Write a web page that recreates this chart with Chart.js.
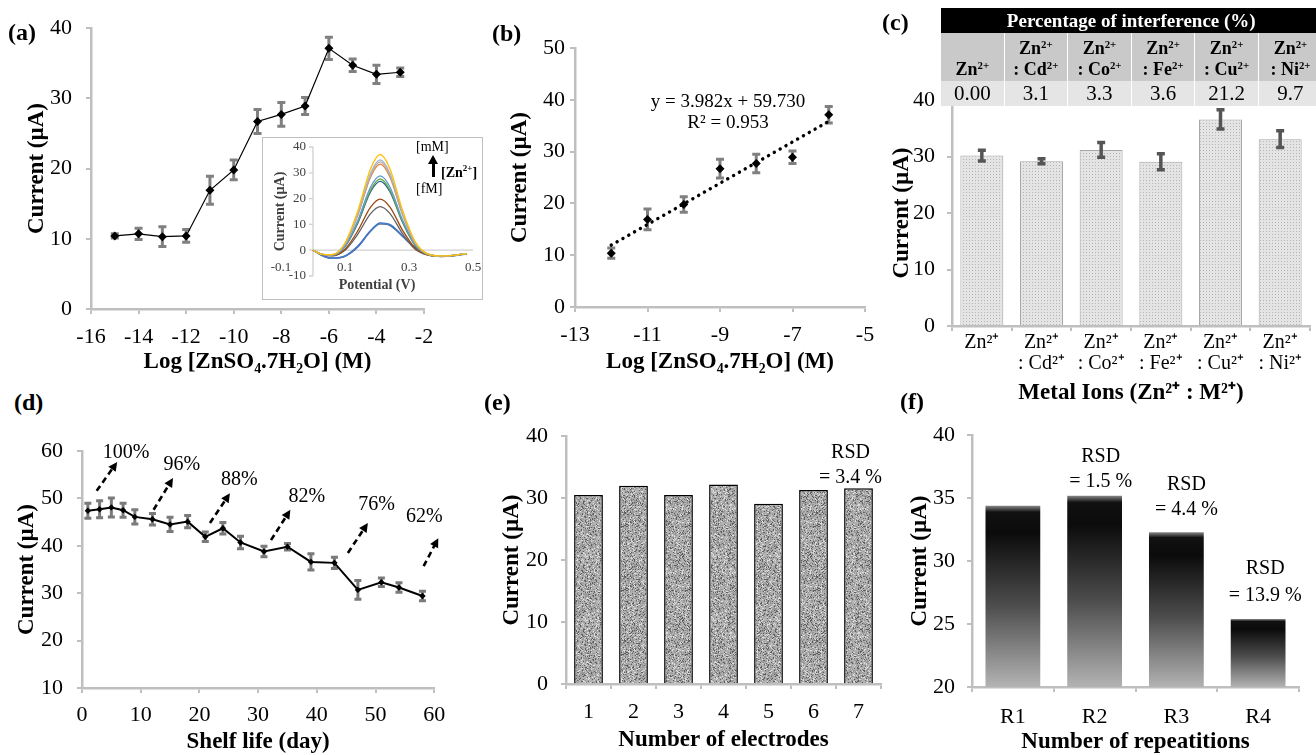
<!DOCTYPE html>
<html lang="en">
<head>
<meta charset="UTF-8">
<title>Zn2+ electrode figure</title>
<style>
    body {
        margin: 0;
        width: 1316px;
        height: 755px;
        overflow: hidden;
        position: relative;
        background: #fff;
        font-family: 'Liberation Serif', 'Times New Roman', serif;
        color: #000;
    }
    .panel { position: absolute; }
    .tag {
        position: absolute;
        font-weight: bold;
        font-size: 24px;
        line-height: 24px;
    }
    #insetBox {
        position: absolute;
        left: 262px; top: 137px; width: 219px; height: 161px;
        border: 1px solid #bfbfbf;
        background: #fff;
    }
    .small { position: absolute; font-size: 14px; line-height: 14px; }
    #arrowUp {
        position: absolute; left: 432px; top: 163px;
        width: 3px; height: 14px; background: #000;
    }
    #arrowUp:before {
        content: ''; position: absolute; left: -4px; top: -8px;
        border-left: 5.5px solid transparent; border-right: 5.5px solid transparent;
        border-bottom: 9px solid #000;
    }
    #interf {
        position: absolute; left: 940px; top: 8px;
        width: 382px; border-collapse: collapse; table-layout: fixed;
        font-family: 'Liberation Serif', 'Times New Roman', serif;
    }
    #interf th, #interf td { padding: 0; text-align: center; }
    #interf .head th {
        background: #000; color: #fff; font-size: 19px; height: 25px; line-height: 25px;
    }
    #interf .ions td {
        background: #c9c9c9; font-weight: bold; font-size: 18px; line-height: 21px;
        height: 47px; vertical-align: bottom; padding-bottom: 1px; border-left: 1px solid #fff;
    }
    #interf .vals td {
        background: #e5e5e5; font-size: 21px; height: 25px; line-height: 25px; border-left: 1px solid #fff;
    }
    #interf sup { font-size: 0.6em; line-height: 0; vertical-align: 0.6em; }
</style>
</head>
<body>
    <div class="panel" style="left:0px; top:0px; width:443px; height:376px;"><canvas id="chartA"></canvas></div>
    <div id="insetBox"></div>
    <div class="panel" style="left:262px; top:137px; width:221px; height:163px;"><canvas id="chartInset"></canvas></div>
    <div class="small" style="left:416px; top:140px;">[mM]</div>
    <div id="arrowUp"></div>
    <div class="small" style="left:441px; top:161px; font-weight:bold;">[Zn<sup style="font-size:9px">2+</sup>]</div>
    <div class="small" style="left:416px; top:182px;">[fM]</div>
    <div class="panel" style="left:490px; top:20px; width:395px; height:358px;"><canvas id="chartB"></canvas></div>
    <div class="panel" style="left:870px; top:75px; width:446px; height:338px;"><canvas id="chartC"></canvas></div>
    <table id="interf"></table>
    <div class="panel" style="left:0px; top:420px; width:454px; height:335px;"><canvas id="chartD"></canvas></div>
    <div class="panel" style="left:480px; top:410px; width:411px; height:345px;"><canvas id="chartE"></canvas></div>
    <div class="panel" style="left:880px; top:410px; width:436px; height:345px;"><canvas id="chartF"></canvas></div>

    <div class="tag" style="left:8px; top:20px;">(a)</div>
    <div class="tag" style="left:492px; top:21px;">(b)</div>
    <div class="tag" style="left:882px; top:10px;">(c)</div>
    <div class="tag" style="left:14px; top:390px;">(d)</div>
    <div class="tag" style="left:484px; top:390px;">(e)</div>
    <div class="tag" style="left:900px; top:389px;">(f)</div>

    <script src="https://cdn.jsdelivr.net/npm/chart.js@4"></script>
    <script>
        // ---- data ----
        const aLogConc = [-15, -14, -13, -12, -11, -10, -9, -8, -7, -6, -5, -4, -3];
        const aCurrent = [10.4, 10.7, 10.3, 10.4, 16.9, 19.8, 26.7, 27.7, 28.9, 37.1, 34.7, 33.4, 33.7];
        const aError = [0.3, 0.8, 1.4, 0.9, 2.0, 1.4, 1.7, 1.7, 1.2, 1.6, 0.9, 1.3, 0.6];

        const insetPotential = [0, 0.03, 0.06, 0.1, 0.14, 0.18, 0.21, 0.24, 0.28, 0.32, 0.36, 0.4, 0.44, 0.48];
        const insetCurves = [
            [0, -1.6, -1.7, 2.8, 15.2, 31.6, 37.1, 31.7, 15.4, 3.1, -1.5, -2.2, -2.0, -1.3],
            [0, -1.6, -1.7, 2.5, 14.2, 29.8, 35.0, 29.9, 14.4, 2.8, -1.5, -2.2, -2.0, -1.3],
            [0, -1.6, -1.7, 2.4, 13.9, 29.1, 34.2, 29.2, 14.1, 2.7, -1.5, -2.2, -2.0, -1.3],
            [0, -1.6, -1.8, 2.3, 13.5, 28.4, 33.4, 28.5, 13.7, 2.6, -1.6, -2.2, -2.0, -1.3],
            [0, -1.7, -1.9, 1.6, 11.5, 24.5, 28.8, 24.6, 11.7, 2.0, -1.7, -2.3, -2.0, -1.3],
            [0, -1.7, -1.9, 1.5, 10.9, 23.4, 27.6, 23.5, 11.1, 1.8, -1.7, -2.3, -2.0, -1.3],
            [0, -1.7, -1.9, 1.4, 10.5, 22.7, 26.7, 22.8, 10.7, 1.7, -1.7, -2.3, -2.0, -1.3],
            [0, -1.8, -2.1, 0.4, 7.5, 16.7, 19.8, 16.8, 7.7, 0.7, -1.9, -2.4, -2.0, -1.3],
            [0, -1.8, -2.2, 0.0, 6.2, 14.2, 16.9, 14.3, 6.4, 0.3, -1.9, -2.4, -2.0, -1.3],
            [0, -2.0, -3.0, -2.2, 1.6, 7.7, 10.6, 10.0, 5.6, 1.0, -1.5, -2.3, -2.0, -1.3],
            [0, -2.1, -3.1, -2.3, 1.4, 7.5, 10.4, 9.8, 5.5, 0.9, -1.6, -2.4, -2.1, -1.4],
            [0, -2.2, -3.2, -2.4, 1.2, 7.3, 10.2, 9.6, 5.3, 0.8, -1.7, -2.5, -2.2, -1.5]
        ];

        const bLogConc = [-12, -11, -10, -9, -8, -7, -6];
        const bCurrent = [10.4, 16.9, 19.8, 26.7, 27.7, 28.9, 37.1];
        const bError = [1.0, 2.0, 1.5, 1.8, 1.8, 1.2, 1.6];
        const bTrendX = [-12, -6];
        const bTrendY = [11.95, 35.84];
        const bEquation = ['y = 3.982x + 59.730', 'R² = 0.953'];

        const cIons = ['', 'Cd', 'Co', 'Fe', 'Cu', 'Ni'];
        const cLabels = ['Zn²⁺', ['Zn²⁺', ': Cd²⁺'], ['Zn²⁺', ': Co²⁺'], ['Zn²⁺', ': Fe²⁺'], ['Zn²⁺', ': Cu²⁺'], ['Zn²⁺', ': Ni²⁺']];
        const cCurrent = [30.2, 29.2, 31.2, 29.1, 36.6, 33.1];
        const cError = [0.95, 0.45, 1.3, 1.4, 1.7, 1.5];
        const cInterference = ['0.00', '3.1', '3.3', '3.6', '21.2', '9.7'];

        const dDays = [1, 3, 5, 7, 9, 12, 15, 18, 21, 24, 27, 31, 35, 39, 43, 47, 51, 54, 58];
        const dCurrent = [47.4, 47.7, 48.1, 47.5, 46.1, 45.6, 44.5, 45.1, 41.9, 43.7, 40.7, 38.8, 39.8, 36.6, 36.4, 30.7, 32.3, 31.2, 29.4];
        const dError = [1.6, 1.8, 2.0, 1.5, 1.5, 1.2, 1.5, 1.3, 1.0, 1.2, 1.3, 1.1, 0.7, 1.7, 1.2, 2.0, 0.9, 1.0, 1.0];
        const dRetention = ['100%', '96%', '88%', '82%', '76%', '62%'];

        const eElectrodes = ['1', '2', '3', '4', '5', '6', '7'];
        const eCurrent = [30.5, 32.0, 30.5, 32.2, 29.1, 31.3, 31.6];
        const eRsd = '= 3.4 %';

        const fRepeats = ['R1', 'R2', 'R3', 'R4'];
        const fCurrent = [34.4, 35.2, 32.3, 25.4];
        const fRsd = ['= 1.5 %', '= 4.4 %', '= 13.9 %'];

        // ---- styling helpers ----
        const AXIS = '#bfbfbf';
        const SERIF = "'Liberation Serif', 'Times New Roman', serif";
        Chart.defaults.font.family = SERIF;
        Chart.defaults.color = '#000';

        function baseOptions(padTop, padRight) {
            return {
                responsive: true, maintainAspectRatio: false, animation: false, events: [],
                devicePixelRatio: 1,
                layout: { padding: { top: padTop, right: padRight, left: 0, bottom: 0 } },
                plugins: { legend: { display: false }, tooltip: { enabled: false } }
            };
        }

        function axis(o) {
            const left = o.position === 'left';
            return {
                type: o.type || 'linear',
                position: o.position,
                min: o.min, max: o.max,
                offset: !!o.offset,
                ticks: {
                    stepSize: o.step, padding: o.tickPad, color: '#000', autoSkip: false, maxRotation: 0,
                    font: { size: o.tickSize || 22, lineHeight: o.tickLine || 1.2 }
                },
                grid: { drawOnChartArea: false, tickLength: 5, color: AXIS, lineWidth: 2, offset: !!o.offset },
                border: { color: AXIS, width: 2.5 },
                title: {
                    display: true, text: o.title, color: '#000',
                    font: { size: 23, weight: 'bold' },
                    padding: left ? { top: o.titlePad, bottom: 0 } : { top: 0, bottom: o.titlePad }
                },
                afterFit: s => { if (left) s.width = o.size; else s.height = o.size; }
            };
        }

        function drawErrors(chart, onTop) {
            const ctx = chart.ctx;
            chart.data.datasets.forEach((ds, di) => {
                if (!ds.errors || !!ds.errorsOnTop !== onTop) return;
                const meta = chart.getDatasetMeta(di);
                const ys = chart.scales[meta.yAxisID];
                ctx.save();
                ctx.strokeStyle = ds.errorColor;
                ctx.lineWidth = ds.errorWidth;
                meta.data.forEach((el, i) => {
                    const raw = ds.data[i];
                    const v = typeof raw === 'object' ? raw.y : raw;
                    const hi = ys.getPixelForValue(v + ds.errors[i]);
                    const lo = ys.getPixelForValue(v - ds.errors[i]);
                    const w = ds.errorCap;
                    ctx.beginPath();
                    ctx.moveTo(el.x, hi); ctx.lineTo(el.x, lo);
                    ctx.moveTo(el.x - w, hi); ctx.lineTo(el.x + w, hi);
                    ctx.moveTo(el.x - w, lo); ctx.lineTo(el.x + w, lo);
                    ctx.stroke();
                });
                ctx.restore();
            });
        }
        const errorBars = {
            id: 'errorBars',
            beforeDatasetsDraw(chart) { drawErrors(chart, false); },
            afterDatasetsDraw(chart) { drawErrors(chart, true); }
        };

        // text and arrow annotations placed in data units
        function notes(items) {
            return {
                id: 'notes',
                afterDatasetsDraw(chart) {
                    const { ctx, scales: { x, y } } = chart;
                    ctx.save();
                    items.forEach(n => {
                        if (n.arrow) {
                            const ax = x.getPixelForValue(n.arrow[0]), ay = y.getPixelForValue(n.arrow[1]);
                            const bx = x.getPixelForValue(n.arrow[2]), by = y.getPixelForValue(n.arrow[3]);
                            const ang = Math.atan2(by - ay, bx - ax);
                            const c = Math.cos(ang), s = Math.sin(ang), hl = 9, hw = 4.5;
                            ctx.strokeStyle = '#000';
                            ctx.lineWidth = 2.6;
                            ctx.setLineDash([6, 4]);
                            ctx.beginPath();
                            ctx.moveTo(ax, ay);
                            ctx.lineTo(bx - hl * 0.8 * c, by - hl * 0.8 * s);
                            ctx.stroke();
                            ctx.setLineDash([]);
                            ctx.fillStyle = '#000';
                            ctx.beginPath();
                            ctx.moveTo(bx, by);
                            ctx.lineTo(bx - hl * c + hw * s, by - hl * s - hw * c);
                            ctx.lineTo(bx - hl * c - hw * s, by - hl * s + hw * c);
                            ctx.closePath();
                            ctx.fill();
                        }
                        if (n.text) {
                            const px = x.getPixelForValue(n.x) + (n.dx || 0);
                            const py = y.getPixelForValue(n.y);
                            ctx.font = n.font;
                            ctx.fillStyle = '#000';
                            ctx.textAlign = 'center';
                            ctx.textBaseline = 'middle';
                            n.text.forEach((t, k) => ctx.fillText(t, px, py + k * (n.lh || 0)));
                        }
                    });
                    ctx.restore();
                }
            };
        }

        function dotPattern() {
            const c = document.createElement('canvas');
            c.width = 3; c.height = 3;
            const g = c.getContext('2d');
            g.fillStyle = '#e4e4e4'; g.fillRect(0, 0, 3, 3);
            g.fillStyle = '#b4b4b4'; g.fillRect(0, 0, 1, 1);
            return g.createPattern(c, 'repeat');
        }

        // granite texture for the electrode bars (fixed seed, purely decorative)
        function speckle() {
            const n = 64;
            const c = document.createElement('canvas');
            c.width = n; c.height = n;
            const g = c.getContext('2d');
            const img = g.createImageData(n, n);
            let seed = 12345;
            for (let i = 0; i < n * n; i++) {
                seed = (seed * 1103515245 + 12345) & 0x7fffffff;
                const h = (seed >> 16) & 255;
                const v = h < 35 ? 95 : (h < 110 ? 150 : (h > 225 ? 220 : 178));
                img.data[i * 4] = img.data[i * 4 + 1] = img.data[i * 4 + 2] = v;
                img.data[i * 4 + 3] = 255;
            }
            g.putImageData(img, 0, 0);
            return g.createPattern(c, 'repeat');
        }

        const pts = (xs, ys) => xs.map((x, i) => ({ x: x, y: ys[i] }));

        // ---- (a) calibration over full range ----
        const optA = baseOptions(28, 14);
        optA.scales = {
            x: axis({ position: 'bottom', min: -16, max: -2, step: 2, tickPad: 9.8, size: 67, titlePad: 0.2, title: 'Log [ZnSO₄.7H₂O] (M)' }),
            y: axis({ position: 'left', min: 0, max: 40, step: 10, tickPad: 14, size: 91, titlePad: 23.2, title: 'Current (µA)' })
        };
        new Chart(document.getElementById('chartA'), {
            type: 'line',
            data: { datasets: [{
                data: pts(aLogConc, aCurrent),
                borderColor: '#000', borderWidth: 1.2,
                pointStyle: 'rectRot', pointRadius: 4.5, pointBackgroundColor: '#000', pointBorderWidth: 0,
                errors: aError, errorColor: '#808080', errorWidth: 3, errorCap: 4
            }] },
            options: optA,
            plugins: [errorBars]
        });

        // ---- inset: DPV curves ----
        const insetColors = ['#ffc000', '#a5b4cc', '#b0b0b0', '#ed7d31', '#5b9bd5', '#70ad47', '#255e91',
                             '#9e480e', '#636363', '#4472c4', '#5b9bd5', '#264478'];
        // axes crossing at zero, with their tick labels taken from the scales
        const crossAxes = {
            id: 'crossAxes',
            beforeDatasetsDraw(chart) {
                const { ctx, scales: { x, y } } = chart;
                const x0 = x.getPixelForValue(0), y0 = y.getPixelForValue(0);
                ctx.save();
                ctx.strokeStyle = '#d0d0d0';
                ctx.lineWidth = 1.3;
                ctx.beginPath();
                ctx.moveTo(x0, y.getPixelForValue(y.max));
                ctx.lineTo(x0, y.getPixelForValue(y.min));
                ctx.moveTo(x0, y0);
                ctx.lineTo(x.getPixelForValue(x.max), y0);
                y.ticks.forEach(t => {
                    const py = y.getPixelForValue(t.value);
                    ctx.moveTo(x0 - 4, py); ctx.lineTo(x0, py);
                });
                ctx.stroke();
                ctx.fillStyle = '#404040';
                ctx.font = '13px ' + SERIF;
                ctx.textBaseline = 'middle';
                ctx.textAlign = 'right';
                y.ticks.forEach(t => ctx.fillText(t.label, x0 - 7, y.getPixelForValue(t.value)));
                ctx.textAlign = 'center';
                x.ticks.forEach(t => ctx.fillText(t.label, x.getPixelForValue(t.value), y0 + 17));
                ctx.restore();
            }
        };
        const optI = baseOptions(10, 10);
        optI.scales = {
            x: {
                type: 'linear', position: 'bottom', min: -0.1, max: 0.5,
                ticks: { stepSize: 0.2, display: false },
                grid: { display: false, drawTicks: false }, border: { display: false },
                title: { display: true, text: 'Potential (V)', color: '#404040', font: { size: 14, weight: 'bold' }, padding: { top: 0, bottom: 6.2 } },
                afterFit: s => { s.height = 24; }
            },
            y: {
                type: 'linear', position: 'left', min: -10, max: 40,
                ticks: { stepSize: 10, display: false },
                grid: { display: false, drawTicks: false }, border: { display: false },
                title: { display: true, text: 'Current (µA)', color: '#404040', font: { size: 14, weight: 'bold' }, padding: { top: 9.6, bottom: 0 } },
                afterFit: s => { s.width = 19; }
            }
        };
        new Chart(document.getElementById('chartInset'), {
            type: 'line',
            data: { datasets: insetCurves.map((curve, k) => ({
                data: pts(insetPotential, curve),
                borderColor: insetColors[k], borderWidth: 1.3,
                pointRadius: 0, cubicInterpolationMode: 'monotone'
            })) },
            options: optI,
            plugins: [crossAxes]
        });

        // ---- (b) linear range ----
        const optB = baseOptions(28, 20);
        optB.scales = {
            x: axis({ position: 'bottom', min: -13, max: -5, step: 2, tickPad: 9.8, size: 71, titlePad: 2.2, title: 'Log [ZnSO₄.7H₂O] (M)' }),
            y: axis({ position: 'left', min: 0, max: 50, step: 10, tickPad: 5, size: 85, titlePad: 16.2, title: 'Current (µA)' })
        };
        new Chart(document.getElementById('chartB'), {
            type: 'line',
            data: { datasets: [
                {
                    data: pts(bLogConc, bCurrent), showLine: false, order: 0,
                    pointStyle: 'rectRot', pointRadius: 4.5, pointBackgroundColor: '#000', pointBorderWidth: 0,
                    errors: bError, errorColor: '#808080', errorWidth: 3, errorCap: 4
                },
                {
                    data: pts(bTrendX, bTrendY), order: 1,
                    borderColor: '#000', borderWidth: 3.4, borderDash: [0.1, 6.6], borderCapStyle: 'round',
                    pointRadius: 0
                }
            ] },
            options: optB,
            plugins: [errorBars, notes([
                { x: -8.78, y: 39.6, text: bEquation, lh: 21, font: "19px " + SERIF }
            ])]
        });

        // ---- (c) interference ----
        const table = document.getElementById('interf');
        table.innerHTML =
            '<tr class="head"><th colspan="6">Percentage of interference (%)</th></tr>' +
            '<tr class="ions">' + cIons.map(m => '<td>' + (m ? 'Zn<sup>2+</sup><br>: ' + m + '<sup>2+</sup>' : 'Zn<sup>2+</sup>') + '</td>').join('') + '</tr>' +
            '<tr class="vals">' + cInterference.map(v => '<td>' + v + '</td>').join('') + '</tr>';

        const optC = baseOptions(25, 6);
        optC.scales = {
            x: axis({ type: 'category', position: 'bottom', offset: true, tickPad: 1.5, tickSize: 20, tickLine: 1.05, size: 87, titlePad: 6.2, title: 'Metal Ions (Zn²⁺ : M²⁺)' }),
            y: axis({ position: 'left', min: 0, max: 40, step: 10, tickPad: 12, size: 82, titlePad: 18.2, title: 'Current (µA)' })
        };
        new Chart(document.getElementById('chartC'), {
            type: 'bar',
            data: { labels: cLabels, datasets: [{
                data: cCurrent,
                backgroundColor: dotPattern(), borderColor: '#a6a6a6', borderWidth: 1,
                barPercentage: 0.72, categoryPercentage: 1,
                errors: cError, errorsOnTop: true, errorColor: '#555555', errorWidth: 3.5, errorCap: 4
            }] },
            options: optC,
            plugins: [errorBars]
        });

        // ---- (d) shelf life ----
        const optD = baseOptions(31, 12);
        optD.scales = {
            x: axis({ position: 'bottom', min: 0, max: 60, step: 10, tickPad: 8.8, size: 67, titlePad: -1, title: 'Shelf life (day)' }),
            y: axis({ position: 'left', min: 10, max: 60, step: 10, tickPad: 14, size: 82, titlePad: 13.2, title: 'Current (µA)' })
        };
        const pctFont = "20px " + SERIF;
        new Chart(document.getElementById('chartD'), {
            type: 'line',
            data: { datasets: [{
                data: pts(dDays, dCurrent),
                borderColor: '#000', borderWidth: 2,
                pointStyle: 'rectRot', pointRadius: 3.2, pointBackgroundColor: '#000', pointBorderWidth: 0,
                errors: dError, errorColor: '#7a7a7a', errorWidth: 3, errorCap: 3.5
            }] },
            options: optD,
            plugins: [errorBars, notes([
                { arrow: [2.5, 51.6, 6.0, 57.7], x: 7.5, y: 59.6, text: [dRetention[0]], font: pctFont },
                { arrow: [12.2, 47.6, 15.5, 54.3], x: 17.0, y: 57.0, text: [dRetention[1]], font: pctFont },
                { arrow: [21.8, 44.8, 25.2, 51.1], x: 26.8, y: 53.9, text: [dRetention[2]], font: pctFont },
                { arrow: [32.2, 41.2, 35.5, 47.6], x: 38.3, y: 50.3, text: [dRetention[3]], font: pctFont },
                { arrow: [45.3, 38.5, 48.7, 44.8], x: 50.2, y: 48.6, text: [dRetention[4]], font: pctFont },
                { arrow: [58.2, 35.7, 60.7, 41.6], x: 58.3, y: 46.1, text: [dRetention[5]], font: pctFont }
            ])]
        });

        // ---- (e) reproducibility ----
        const optE = baseOptions(23, 10);
        optE.scales = {
            x: axis({ type: 'category', position: 'bottom', offset: true, tickPad: 9.8, size: 71, titlePad: 1.2, title: 'Number of electrodes' }),
            y: axis({ position: 'left', min: 0, max: 40, step: 10, tickPad: 13, size: 86, titlePad: 18.2, title: 'Current (µA)' })
        };
        new Chart(document.getElementById('chartE'), {
            type: 'bar',
            data: { labels: eElectrodes, datasets: [{
                data: eCurrent,
                backgroundColor: speckle(), borderColor: '#000', borderWidth: 1.5,
                barPercentage: 0.64, categoryPercentage: 1
            }] },
            options: optE,
            plugins: [notes([
                { x: 6, dx: -8, y: 37.3, text: ['RSD', eRsd], lh: 25, font: "20px " + SERIF }
            ])]
        });

        // ---- (f) repeatability ----
        const optF = baseOptions(23, 17);
        optF.scales = {
            x: axis({ type: 'category', position: 'bottom', offset: true, tickPad: 11.8, size: 68, titlePad: -1, title: 'Number of repeatitions' }),
            y: axis({ position: 'left', min: 20, max: 40, step: 5, tickPad: 12, size: 92, titlePad: 26.2, title: 'Current (µA)' })
        };
        const rsdFont = "20px " + SERIF;
        new Chart(document.getElementById('chartF'), {
            type: 'bar',
            data: { labels: fRepeats, datasets: [{
                data: fCurrent,
                backgroundColor: c => {
                    const chart = c.chart;
                    if (!chart.chartArea || c.type !== 'data') return '#333';
                    const ys = chart.scales.y;
                    const top = ys.getPixelForValue(c.raw), bot = ys.getPixelForValue(ys.min);
                    const g = chart.ctx.createLinearGradient(0, top, 0, bot);
                    g.addColorStop(0, '#8a8a8a');
                    g.addColorStop(0.035, '#111111');
                    g.addColorStop(0.15, '#0b0b0b');
                    g.addColorStop(0.55, '#4d4d4d');
                    g.addColorStop(1, '#b3b3b3');
                    return g;
                },
                borderWidth: 0,
                barPercentage: 0.67, categoryPercentage: 1
            }] },
            options: optF,
            plugins: [notes([
                { x: 1, dx: 6, y: 38.27, text: ['RSD', fRsd[0]], lh: 25, font: rsdFont },
                { x: 2, dx: 10, y: 36.06, text: ['RSD', fRsd[1]], lh: 25, font: rsdFont },
                { x: 3, dx: 7, y: 29.4, text: ['RSD', fRsd[2]], lh: 27, font: rsdFont }
            ])]
        });
    </script>
</body>
</html>
